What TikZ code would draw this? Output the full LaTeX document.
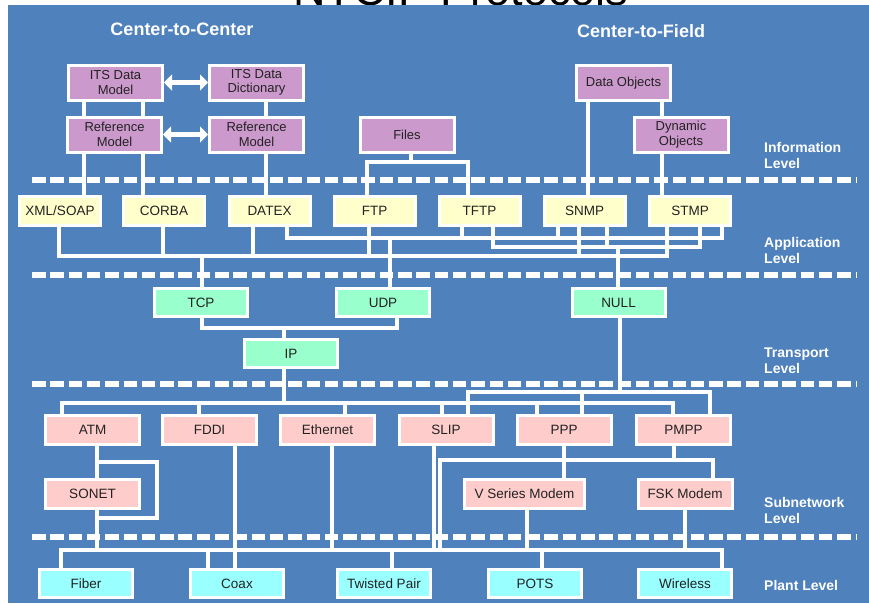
\documentclass[tikz,border=0pt]{standalone}
\usepackage{fontspec}
\setmainfont{Liberation Sans}
\usepackage{tikz}
\usetikzlibrary{arrows.meta,backgrounds}
\definecolor{panelblue}{HTML}{4F81BD}
\definecolor{infopurple}{HTML}{CC99CC}
\definecolor{appyellow}{HTML}{FFFFCC}
\definecolor{transgreen}{HTML}{99FFCC}
\definecolor{subpink}{HTML}{FFCCCC}
\definecolor{plantcyan}{HTML}{99FFFF}
\definecolor{boxtext}{HTML}{222222}
\tikzset{
  wire/.style={white, line width=3.6pt},
  levelrule/.style={white, line width=5.5pt, dash pattern=on 13.5pt off 4.8pt},
  linkarrow/.style={white, line width=5pt, {Triangle[width=16pt,length=8pt]}-{Triangle[width=16pt,length=8pt]}},
  basebox/.style={draw=white, line width=3pt, inner sep=1pt, align=center, text=boxtext, font=\fontsize{13.5}{15}\selectfont, minimum height=29pt},
  purplebox/.style={basebox, fill=infopurple, minimum width=94pt, minimum height=35pt, font=\fontsize{13}{14.5}\selectfont},
  yellowbox/.style={basebox, fill=appyellow, minimum width=81pt},
  greenbox/.style={basebox, fill=transgreen, minimum width=93pt, minimum height=28pt},
  pinkbox/.style={basebox, fill=subpink, minimum width=94pt},
  cyanbox/.style={basebox, fill=plantcyan, minimum width=93pt, minimum height=28pt},
  headnode/.style={white, font=\bfseries\fontsize{18}{20}\selectfont, inner sep=0pt},
  levelnode/.style={white, font=\bfseries\fontsize{14}{16}\selectfont, align=left, anchor=west, inner sep=0pt},
  titlenode/.style={black, font=\fontsize{45}{50}\selectfont, anchor=base, inner sep=0pt}
}

\begin{document}
\begin{tikzpicture}[x=1pt,y=-1pt]
  \useasboundingbox (0,0) rectangle (869,603);
  \begin{scope}[on background layer]
    \clip (0,0) rectangle (869,603);
    \fill[white] (0,0) rectangle (869,603);
    \node[titlenode] (title) at (461,5) {NTCIP Protocols};
    \fill[panelblue] (8,5) rectangle (869,603);
    \foreach \yy in {180,275,384,537}
      \draw[levelrule] (32,\yy) -- (857,\yy);
  \end{scope}

  \node[headnode] (c2c) at (182,29) {Center-to-Center};
  \node[headnode] (c2f) at (641,31) {Center-to-Field};
  \node[levelnode] (infolevel) at (764,155) {Information\\Level};
  \node[levelnode] (applevel) at (764,250) {Application\\Level};
  \node[levelnode] (translevel) at (764,360.5) {Transport\\Level};
  \node[levelnode] (sublevel) at (764,510.5) {Subnetwork\\Level};
  \node[levelnode] (plantlevel) at (764,585) {Plant Level};

  \node[purplebox] (itsmodel) at (115.5,82.5) {ITS Data\\Model};
  \node[purplebox] (itsdict) at (256.5,82.5) {ITS Data\\Dictionary};
  \node[purplebox] (refleft) at (114.5,134.5) {Reference\\Model};
  \node[purplebox] (refright) at (256.5,134.5) {Reference\\Model};
  \node[purplebox] (files) at (407,134.5) {Files};
  \node[purplebox] (dataobj) at (623.5,83) {Data Objects};
  \node[purplebox] (dynobj) at (681,134.5) {Dynamic\\Objects};

  \node[yellowbox] (xmlsoap) at (60,211) {XML/SOAP};
  \node[yellowbox] (corba) at (164,211) {CORBA};
  \node[yellowbox] (datex) at (269.5,211) {DATEX};
  \node[yellowbox] (ftp) at (374.5,211) {FTP};
  \node[yellowbox] (tftp) at (479.5,211) {TFTP};
  \node[yellowbox] (snmp) at (584.5,211) {SNMP};
  \node[yellowbox] (stmp) at (690,211) {STMP};

  \node[greenbox] (tcp) at (201,302.5) {TCP};
  \node[greenbox] (udp) at (383,302.5) {UDP};
  \node[greenbox] (nullp) at (618.5,302.5) {NULL};
  \node[greenbox] (ip) at (291,353.5) {IP};

  \node[pinkbox] (atm) at (92.5,430) {ATM};
  \node[pinkbox] (fddi) at (209.5,430) {FDDI};
  \node[pinkbox] (ethernet) at (327.5,430) {Ethernet};
  \node[pinkbox] (slip) at (446,430) {SLIP};
  \node[pinkbox] (ppp) at (564,430) {PPP};
  \node[pinkbox] (pmpp) at (683.5,430) {PMPP};
  \node[pinkbox] (sonet) at (92.5,494) {SONET};
  \node[pinkbox, minimum width=120pt] (vseries) at (524.5,494) {V Series Modem};
  \node[pinkbox] (fsk) at (685,494) {FSK Modem};

  \node[cyanbox] (fiber) at (86,583.5) {Fiber};
  \node[cyanbox] (coax) at (237,583.5) {Coax};
  \node[cyanbox] (twisted) at (384,583.5) {Twisted Pair};
  \node[cyanbox] (pots) at (535,583.5) {POTS};
  \node[cyanbox] (wireless) at (685,583.5) {Wireless};

  \coordinate (filesbus) at (0,162);
  \coordinate (udpbus) at (0,238);
  \coordinate (nullbus) at (0,247);
  \coordinate (tcpbus) at (0,256);
  \coordinate (ipjoin) at (0,328);
  \coordinate (serialbus) at (0,392);
  \coordinate (ipbus) at (0,403);
  \coordinate (modembus) at (0,460);
  \coordinate (atmloop) at (0,462);
  \coordinate (sonetloop) at (0,518);
  \coordinate (plantbus) at (0,550);

  \begin{scope}[on background layer]
    \draw[linkarrow] (itsmodel.east) -- (itsmodel.east -| itsdict.west);
    \draw[linkarrow] (refleft.east) -- (refleft.east -| refright.west);
    \draw[wire] ([xshift=-31.5]itsmodel.south) -- ([xshift=-31.5]itsmodel.south |- xmlsoap.north);
    \draw[wire] ([xshift=27.5]itsmodel.south) -- ([xshift=27.5]itsmodel.south |- corba.north);
    \draw[wire] ([xshift=9.5]itsdict.south) -- ([xshift=9.5]itsdict.south |- datex.north);
    \draw[wire] ([xshift=4]files.south) -- ([xshift=4]files.south |- filesbus);
    \draw[wire] ([xshift=-7.5]ftp.north) |- ([xshift=-11.5]tftp.north |- filesbus) -- ([xshift=-11.5]tftp.north);
    \draw[wire] ([xshift=-35.5]dataobj.south) -- ([xshift=-35.5]dataobj.south |- snmp.north);
    \draw[wire] ([xshift=38.5]dataobj.south) -- ([xshift=38.5]dataobj.south |- stmp.north);

    \draw[wire] ([xshift=-1]xmlsoap.south) |- ([xshift=-23]stmp.south |- tcpbus) -- ([xshift=-23]stmp.south);
    \foreach \n/\dx in {corba/-1, datex/-16.5, ftp/-5.5, snmp/-5.5}
      \draw[wire] ([xshift=\dx]\n.south) -- ([xshift=\dx]\n.south |- tcpbus);
    \draw[wire] ([xshift=1]tcp.north) -- ([xshift=1]tcp.north |- tcpbus);
    \draw[wire] ([xshift=17.5]datex.south) |- ([xshift=32]stmp.south |- udpbus) -- ([xshift=32]stmp.south);
    \foreach \n/\dx in {tftp/-17.5, snmp/-26.5}
      \draw[wire] ([xshift=\dx]\n.south) -- ([xshift=\dx]\n.south |- udpbus);
    \draw[wire] ([xshift=7]udp.north) -- ([xshift=7]udp.north |- udpbus);
    \draw[wire] ([xshift=13.5]tftp.south) |- ([xshift=10]stmp.south |- nullbus) -- ([xshift=10]stmp.south);
    \draw[wire] ([xshift=22.5]snmp.south) -- ([xshift=22.5]snmp.south |- nullbus);
    \draw[wire] ([xshift=-0.5]nullp.north) -- ([xshift=-0.5]nullp.north |- nullbus);

    \draw[wire] ([xshift=1]tcp.south) |- ([xshift=14]udp.south |- ipjoin) -- ([xshift=14]udp.south);
    \draw[wire] ([xshift=-7]ip.north) -- ([xshift=-7]ip.north |- ipjoin);
    \draw[wire] ([xshift=-7]ip.south) -- ([xshift=-7]ip.south |- ipbus);
    \draw[wire] ([xshift=-30.5]atm.north) |- ([xshift=-10.5]pmpp.north |- ipbus) -- ([xshift=-10.5]pmpp.north);
    \foreach \n/\dx in {fddi/-10.5, ethernet/17.5, slip/-4, ppp/-27}
      \draw[wire] ([xshift=\dx]\n.north) -- ([xshift=\dx]\n.north |- ipbus);
    \draw[wire] ([xshift=1.5]nullp.south) -- ([xshift=1.5]nullp.south |- serialbus);
    \draw[wire] ([xshift=22]slip.north) |- ([xshift=26.5]pmpp.north |- serialbus) -- ([xshift=26.5]pmpp.north);
    \draw[wire] ([xshift=18]ppp.north) -- ([xshift=18]ppp.north |- serialbus);

    \draw[wire] ([xshift=4.5]atm.south) -- ([xshift=4.5]atm.south |- sonet.north);
    \draw[wire] ([xshift=4.5]atm.south |- atmloop) -- ++(60,0) |- ([xshift=4.5]sonet.south |- sonetloop);
    \draw[wire] ([xshift=4.5]sonet.south) -- ([xshift=4.5]sonet.south |- plantbus);
    \draw[wire] ([xshift=25.5]fddi.south) -- ([xshift=25.5]fddi.south |- coax.north);
    \draw[wire] ([xshift=4.5]ethernet.south) -- ([xshift=4.5]ethernet.south |- plantbus);
    \draw[wire] ([xshift=-12]slip.south) -- ([xshift=-12]slip.south |- plantbus);
    \draw[wire] ([xshift=28]fsk.north) |- ([xshift=-6]slip.south |- modembus) -- ([xshift=-6]slip.south |- plantbus);
    \draw[wire] (ppp.south) -- (ppp.south |- vseries.north);
    \draw[wire] ([xshift=-9.5]pmpp.south) -- ([xshift=-9.5]pmpp.south |- modembus);
    \draw[wire] ([xshift=2.5]vseries.south) -- ([xshift=2.5]vseries.south |- plantbus);
    \draw[wire] (fsk.south) -- (fsk.south |- plantbus);

    \draw[wire] ([xshift=-25]fiber.north) |- ([xshift=37]wireless.north |- plantbus) -- ([xshift=37]wireless.north);
    \foreach \n/\dx in {coax/-29, twisted/8, pots/7}
      \draw[wire] ([xshift=\dx]\n.north) -- ([xshift=\dx]\n.north |- plantbus);
  \end{scope}
\end{tikzpicture}
\end{document}
